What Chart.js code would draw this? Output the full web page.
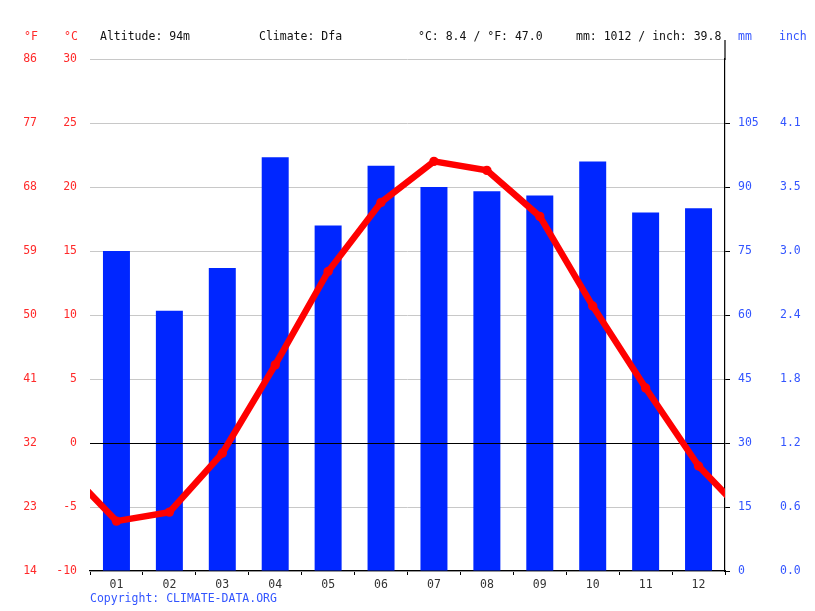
<!DOCTYPE html>
<html>
<head>
<meta charset="utf-8">
<title>Climate chart</title>
<script src="https://cdn.jsdelivr.net/npm/chart.js@4/dist/chart.umd.min.js"></script>
<style>
  body { margin: 0; background: #fff; }
  #wrap { position: relative; width: 815px; height: 611px; font-family: "DejaVu Sans Mono", monospace; font-size: 11.5px; }
  #chart { position: absolute; left: 0; top: 0; }
  .t { position: absolute; line-height: 14px; white-space: pre; color: #111; }
  .red { color: #ff2a2a; }
  .blue { color: #3355ff; }
</style>
</head>
<body>
<div id="wrap">
  <canvas id="chart" width="815" height="611"></canvas>
  <div class="t red" style="left:24px;top:29px">°F</div>
  <div class="t red" style="left:64px;top:29px">°C</div>
  <div class="t" style="left:100px;top:29px">Altitude: 94m</div>
  <div class="t" style="left:259px;top:29px">Climate: Dfa</div>
  <div class="t" style="left:418px;top:29px">°C: 8.4 / °F: 47.0</div>
  <div class="t" style="left:576px;top:29px">mm: 1012 / inch: 39.8</div>
  <div class="t blue" style="left:738px;top:29px">mm</div>
  <div class="t blue" style="left:779px;top:29px">inch</div>
  <div class="t blue" style="left:90px;top:591px">Copyright: CLIMATE-DATA.ORG</div>
</div>
<script>
// monthly values
const months = ["01", "02", "03", "04", "05", "06", "07", "08", "09", "10", "11", "12"];
const precipMm = [75, 61, 71, 97, 81, 95, 90, 89, 88, 96, 84, 85];
const tempC = [-6.1, -5.4, -0.8, 6.1, 13.4, 18.8, 22.0, 21.3, 17.7, 10.7, 4.3, -1.8];

// axis tick labels (bottom to top)
const celsiusTicks = ["-10", "-5", "0", "5", "10", "15", "20", "25", "30"];
const fahrenheitTicks = ["14", "23", "32", "41", "50", "59", "68", "77", "86"];
const mmTicks = ["0", "15", "30", "45", "60", "75", "90", "105", ""];
const inchTicks = ["0.0", "0.6", "1.2", "1.8", "2.4", "3.0", "3.5", "4.1", ""];

const RED = "#ff0000";
const BAR = "#0026ff";
const LABEL_RED = "#ff2a2a";
const LABEL_BLUE = "#3355ff";

Chart.defaults.font.family = "'DejaVu Sans Mono', monospace";
Chart.defaults.font.size = 11.5;

// the line wraps round the year: December before January, January after December
const tempPoints = [{ x: -0.5, y: tempC[11] }]
    .concat(tempC.map((v, i) => ({ x: i + 0.5, y: v })))
    .concat([{ x: 12.5, y: tempC[0] }]);
const tempRadius = tempPoints.map((p, i) => (i === 0 || i === tempPoints.length - 1) ? 0 : 4.7);

// zero line sits above the bars but under the temperature line
const zeroLine = {
    id: "zeroLine",
    beforeDatasetDraw(chart, args) {
        if (args.index !== 0) return;
        const ctx = chart.ctx;
        const y = Math.round(chart.scales.y.getPixelForValue(0)) + 0.5;
        ctx.save();
        ctx.strokeStyle = "#000";
        ctx.lineWidth = 1.2;
        ctx.beginPath();
        ctx.moveTo(chart.chartArea.left, y);
        ctx.lineTo(chart.chartArea.right, y);
        ctx.stroke();
        ctx.restore();
    },
    afterDraw(chart) {
        // right axis line runs up past the plot top
        const ctx = chart.ctx;
        const x = chart.scales.mm.left;
        ctx.save();
        ctx.strokeStyle = "#000";
        ctx.lineWidth = 1.2;
        ctx.beginPath();
        ctx.moveTo(x, 40);
        ctx.lineTo(x, chart.chartArea.top + 1);
        ctx.stroke();
        ctx.restore();
    }
};

function fixWidth(w) {
    return scale => { scale.width = w; };
}

const ctx = document.getElementById("chart").getContext("2d");
new Chart(ctx, {
    data: {
        labels: months,
        datasets: [
            {
                type: "line",
                label: "Temperature",
                data: tempPoints,
                xAxisID: "x2",
                yAxisID: "y",
                borderColor: RED,
                backgroundColor: RED,
                borderWidth: 6.5,
                pointRadius: tempRadius,
                pointBorderWidth: 0,
                pointBackgroundColor: RED,
                tension: 0,
                clip: 0,
                order: 0
            },
            {
                type: "bar",
                label: "Precipitation",
                data: precipMm,
                xAxisID: "x",
                yAxisID: "mm",
                backgroundColor: BAR,
                borderWidth: 0,
                grouped: false,
                barPercentage: 0.51,
                categoryPercentage: 1.0,
                order: 1
            }
        ]
    },
    options: {
        responsive: false,
        animation: false,
        events: [],
        layout: { padding: { top: 59, bottom: 18, left: 0, right: 0 } },
        plugins: {
            legend: { display: false },
            tooltip: { enabled: false }
        },
        scales: {
            x: {
                type: "category",
                position: "bottom",
                offset: true,
                border: { display: true, color: "#000", width: 1.2 },
                grid: { offset: true, drawOnChartArea: false, drawTicks: true, tickLength: 4, color: "#000" },
                ticks: { color: "#333", padding: 3, maxRotation: 0 },
                afterFit: scale => { scale.height = 22; }
            },
            x2: {
                type: "linear",
                display: false,
                min: 0,
                max: 12
            },
            y: {
                type: "linear",
                position: "left",
                weight: 1,
                min: -10,
                max: 30,
                border: { display: false },
                grid: {
                    drawTicks: false,
                    color: c => (c.tick && c.tick.value === 0) ? "rgba(0,0,0,0)" : "#c8c8c8",
                    lineWidth: 1
                },
                ticks: {
                    stepSize: 5,
                    color: LABEL_RED,
                    padding: 13,
                    callback: (v, i) => celsiusTicks[i]
                },
                afterFit: fixWidth(40)
            },
            yF: {
                type: "linear",
                position: "left",
                weight: 2,
                min: -10,
                max: 30,
                border: { display: false },
                grid: { display: false, drawTicks: false },
                ticks: {
                    stepSize: 5,
                    color: LABEL_RED,
                    padding: 13,
                    callback: (v, i) => fahrenheitTicks[i]
                },
                afterFit: fixWidth(50)
            },
            mm: {
                type: "linear",
                position: "right",
                weight: 1,
                min: 0,
                max: 120,
                border: { display: true, color: "#000", width: 1.2 },
                grid: {
                    drawOnChartArea: false,
                    drawTicks: true,
                    tickLength: 5,
                    color: c => (c.tick && c.tick.value === 120) ? "rgba(0,0,0,0)" : "#000"
                },
                ticks: {
                    stepSize: 15,
                    color: LABEL_BLUE,
                    padding: 8,
                    callback: (v, i) => mmTicks[i]
                },
                afterFit: fixWidth(50)
            },
            inch: {
                type: "linear",
                position: "right",
                weight: 2,
                min: 0,
                max: 120,
                border: { display: false },
                grid: { display: false, drawTicks: false },
                ticks: {
                    stepSize: 15,
                    color: LABEL_BLUE,
                    padding: 5,
                    callback: (v, i) => inchTicks[i]
                },
                afterFit: fixWidth(40)
            }
        }
    },
    plugins: [zeroLine]
});
</script>
</body>
</html>
